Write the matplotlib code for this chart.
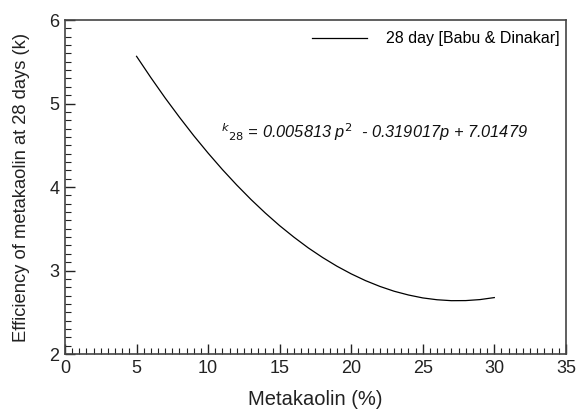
import numpy as np
import matplotlib.pyplot as plt
from matplotlib.ticker import MultipleLocator

plt.rcParams['font.family'] = ['Liberation Sans', 'DejaVu Sans']

# ---------- data ----------
metakaolin = [5, 6, 7, 8, 9, 10, 11, 12, 13, 14, 15, 16, 17, 18, 19, 20,
              21, 22, 23, 24, 25, 26, 27, 28, 29, 30]
efficiency = [5.565, 5.310, 5.066, 4.835, 4.614, 4.406, 4.209, 4.024, 3.850,
              3.688, 3.537, 3.399, 3.271, 3.156, 3.052, 2.960, 2.879, 2.810,
              2.752, 2.707, 2.672, 2.650, 2.639, 2.640, 2.652, 2.676]
series_label = "28 day [Babu & Dinakar]"
equation = r"$^{k}$$_{28}$ = 0.005813 p$^2$  - 0.319017p + 7.01479"

# ---------- plot ----------
fig = plt.figure(figsize=(5.79, 4.17), dpi=100)
ax = fig.add_axes([0.1123, 0.151, 0.865, 0.801])

ax.plot(metakaolin, efficiency, color="black", lw=0.9, label=series_label)

ax.set_xlim(0, 35)
ax.set_ylim(2, 6)
ax.xaxis.set_major_locator(MultipleLocator(5))
ax.xaxis.set_minor_locator(MultipleLocator(0.5))
ax.yaxis.set_major_locator(MultipleLocator(1))
ax.yaxis.set_minor_locator(MultipleLocator(0.1))
ax.tick_params(which="both", direction="in", top=False, right=False,
               labelsize=13, color="#222222", labelcolor="#222222")
ax.tick_params(which="major", length=7, width=1, pad=4)
ax.tick_params(which="minor", length=4, width=0.8)
for s in ax.spines.values():
    s.set_color("#444444")
    s.set_linewidth(1.2)

ax.set_xlabel("Metakaolin (%)", fontsize=14.5, color="#222222", labelpad=10)
ax.set_ylabel("Efficiency of metakaolin at 28 days (k)", fontsize=13.2,
              color="#222222", labelpad=14)

ax.text(10.9, 4.66, equation, fontsize=11.8, style="italic",
        va="center", ha="left", color="#111111")

ax.legend(loc="upper right", bbox_to_anchor=(1.0, 0.985), frameon=False,
          fontsize=11.5, handlelength=3.4, handletextpad=1.2, borderaxespad=0)

fig.savefig("out.png", dpi=100)
